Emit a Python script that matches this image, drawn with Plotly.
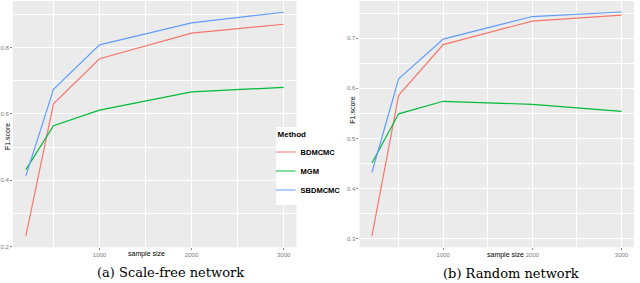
import plotly.graph_objects as go

W, H = 640, 283

sample_size = [200, 500, 1000, 2000, 3000]
methods = ["BDMCMC", "MGM", "SBDMCMC"]
colors = {"BDMCMC": "#F8766D", "MGM": "#00BA38", "SBDMCMC": "#619CFF"}

# (a) Scale-free network
sf_bdmcmc = [0.232, 0.630, 0.766, 0.843, 0.870]
sf_mgm = [0.432, 0.564, 0.611, 0.666, 0.680]
sf_sbdmcmc = [0.413, 0.674, 0.808, 0.874, 0.906]

# (b) Random network
rn_bdmcmc = [0.305, 0.586, 0.687, 0.734, 0.746]
rn_mgm = [0.451, 0.549, 0.574, 0.568, 0.554]
rn_sbdmcmc = [0.432, 0.619, 0.698, 0.743, 0.752]

scale_free = {"BDMCMC": sf_bdmcmc, "MGM": sf_mgm, "SBDMCMC": sf_sbdmcmc}
random_net = {"BDMCMC": rn_bdmcmc, "MGM": rn_mgm, "SBDMCMC": rn_sbdmcmc}

captions = ["(a) Scale-free network", "(b) Random network"]

fig = go.Figure()
for m in methods:
    fig.add_trace(go.Scatter(x=sample_size, y=scale_free[m], mode="lines", name="<b>%s</b>" % m,
                             line=dict(color=colors[m], width=1.2),
                             xaxis="x", yaxis="y", legendgroup=m))
for m in methods:
    fig.add_trace(go.Scatter(x=sample_size, y=random_net[m], mode="lines", name="<b>%s</b>" % m,
                             line=dict(color=colors[m], width=1.2),
                             xaxis="x2", yaxis="y2", legendgroup=m, showlegend=False))

def px_x(p):
    return p / W

def px_y(p):
    return 1 - p / H

ydom = [px_y(249), px_y(1)]
tickfont = dict(family="Liberation Sans, Arial", size=6, color="#7a7a7a")
common_x = dict(tickmode="linear", tick0=0, dtick=1000, showgrid=True, gridcolor="white",
                gridwidth=1, zeroline=False, ticks="outside", ticklen=2, tickwidth=0.6,
                tickcolor="#888", tickfont=tickfont, showline=False,
                minor=dict(dtick=500, tick0=0, showgrid=True, gridcolor="white", gridwidth=0.4))
fig.update_layout(
    width=W, height=H,
    margin=dict(l=0, r=0, t=0, b=0),
    paper_bgcolor="white", plot_bgcolor="#EBEBEB",
    xaxis=dict(domain=[px_x(12), px_x(296)], range=[60, 3140], **common_x),
    xaxis2=dict(domain=[px_x(359), px_x(634)], range=[60, 3140], **common_x),
    yaxis=dict(domain=ydom, range=[0.198, 0.940], anchor="x", tickmode="linear", tick0=0.2, dtick=0.2,
               showgrid=True, gridcolor="white", gridwidth=1, zeroline=False,
               ticks="outside", ticklen=2, tickwidth=0.6, tickcolor="#888", tickfont=tickfont,
               minor=dict(dtick=0.1, tick0=0.1, showgrid=True, gridcolor="white", gridwidth=0.4)),
    yaxis2=dict(domain=ydom, range=[0.283, 0.774], anchor="x2", tickmode="linear", tick0=0.3, dtick=0.1,
                showgrid=True, gridcolor="white", gridwidth=1, zeroline=False,
                ticks="outside", ticklen=2, tickwidth=0.6, tickcolor="#888", tickfont=tickfont,
                minor=dict(dtick=0.05, tick0=0.05, showgrid=True, gridcolor="white", gridwidth=0.4)),
    legend=dict(
        title=dict(text="<b>Method</b>", font=dict(family="Liberation Sans, Arial", size=8, color="black")),
        font=dict(family="Liberation Sans, Arial", size=7.5, color="black"),
        x=px_x(275), y=px_y(128), xanchor="left", yanchor="top",
        bgcolor="white", borderwidth=0, itemwidth=30, tracegroupgap=0,
        indentation=-15,
    ),
    showlegend=True,
)

ann_font = dict(family="Liberation Sans, Arial", size=7, color="black")
cap_font = dict(family="DejaVu Serif, Liberation Serif", size=13, color="black")
def ann(text, x, y, font, angle=0):
    return dict(text=text, x=px_x(x), y=px_y(y), xref="paper", yref="paper",
                xanchor="center", yanchor="middle", showarrow=False, font=font, textangle=angle)

annotations = [
    ann("sample size", 146, 256, ann_font),
    ann("sample size", 505, 257, ann_font),
    ann("F1.score", 6, 137, ann_font, -90),
    ann("F1.score", 352, 111, ann_font, -90),
    ann(captions[0], 170, 274, cap_font),
    ann(captions[1], 511, 275, cap_font),
]
fig.update_layout(annotations=annotations)

fig.write_html("out.html", config={"displayModeBar": False},
               post_script="document.body.style.margin='0';document.body.style.overflow='hidden';")
